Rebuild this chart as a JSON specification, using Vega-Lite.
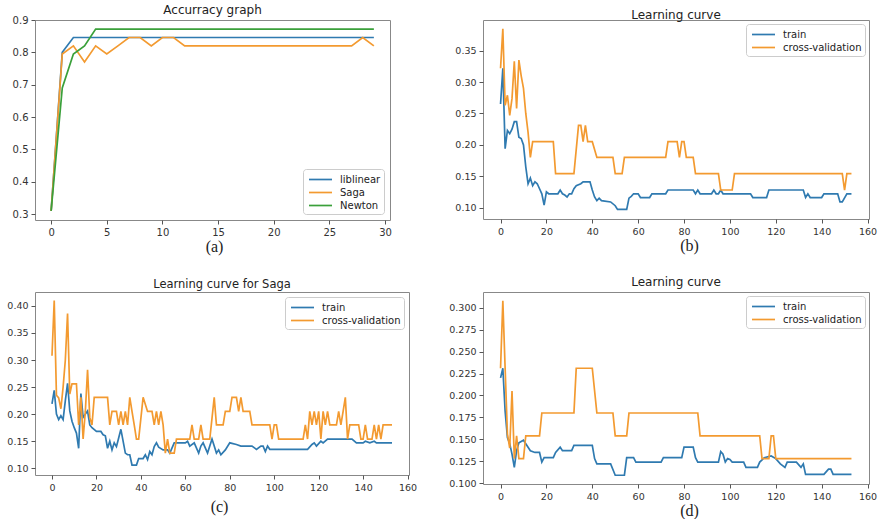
{
  "$schema": "https://vega.github.io/schema/vega-lite/v6.json",
  "background": "white",
  "padding": {"left": 0, "top": 3, "right": 0, "bottom": 0},
  "autosize": {"type": "pad"},
  "columns": 2,
  "bounds": "flush",
  "spacing": {"row": 72, "column": 74},
  "config": {
    "view": {"stroke": "#888", "strokeWidth": 1},
    "axis": {"domain": false, "grid": false, "tickColor": "#555", "tickSize": 4, "labelFont": "DejaVu Sans", "labelFontSize": 9.5, "labelColor": "#333", "labelPadding": 3, "labelFlush": false, "titleFont": "Liberation Serif", "titleFontSize": 16, "titleFontWeight": "normal", "titleColor": "#222", "titleBaseline": "top"},
    "title": {"font": "DejaVu Sans", "fontSize": 12, "fontWeight": "normal", "color": "#222", "anchor": "middle", "offset": -2},
    "legend": {"labelFont": "DejaVu Sans", "labelFontSize": 10, "labelColor": "#222", "symbolType": "M-0.69,0H2.85", "symbolStrokeWidth": 2, "symbolSize": 169, "padding": 3, "rowPadding": 0, "fillColor": "white", "strokeColor": "#ccc", "cornerRadius": 3, "labelOffset": 19, "offset": 5, "title": null},
    "line": {"strokeWidth": 1.7, "clip": true}
  },
  "datasets": {
    "a": [
      {"s":"liblinear","x":0,"y":0.31},{"s":"liblinear","x":1,"y":0.8},{"s":"liblinear","x":2,"y":0.846},{"s":"liblinear","x":29,"y":0.846},
      {"s":"Saga","x":0,"y":0.31},{"s":"Saga","x":1,"y":0.795},{"s":"Saga","x":2,"y":0.82},{"s":"Saga","x":3,"y":0.77},{"s":"Saga","x":4,"y":0.82},{"s":"Saga","x":5,"y":0.795},{"s":"Saga","x":6,"y":0.82},{"s":"Saga","x":7,"y":0.846},{"s":"Saga","x":8,"y":0.846},{"s":"Saga","x":9,"y":0.82},{"s":"Saga","x":10,"y":0.846},{"s":"Saga","x":11,"y":0.846},{"s":"Saga","x":12,"y":0.82},{"s":"Saga","x":27,"y":0.82},{"s":"Saga","x":28,"y":0.846},{"s":"Saga","x":29,"y":0.82},
      {"s":"Newton","x":0,"y":0.31},{"s":"Newton","x":1,"y":0.69},{"s":"Newton","x":2,"y":0.795},{"s":"Newton","x":3,"y":0.82},{"s":"Newton","x":4,"y":0.872},{"s":"Newton","x":29,"y":0.872}
    ],
    "b": [
      {"s":"train","x":0,"y":0.265},{"s":"train","x":1,"y":0.322},{"s":"train","x":2,"y":0.194},{"s":"train","x":3,"y":0.223},{"s":"train","x":4,"y":0.218},{"s":"train","x":5,"y":0.225},{"s":"train","x":6,"y":0.237},{"s":"train","x":7,"y":0.237},{"s":"train","x":8,"y":0.212},{"s":"train","x":9,"y":0.21},{"s":"train","x":10,"y":0.2},{"s":"train","x":11,"y":0.165},{"s":"train","x":12,"y":0.138},{"s":"train","x":13,"y":0.147},{"s":"train","x":14,"y":0.135},{"s":"train","x":15,"y":0.141},{"s":"train","x":16,"y":0.138},{"s":"train","x":17,"y":0.13},{"s":"train","x":18,"y":0.122},{"s":"train","x":19,"y":0.104},{"s":"train","x":20,"y":0.125},{"s":"train","x":21,"y":0.122},{"s":"train","x":25,"y":0.122},{"s":"train","x":26,"y":0.128},{"s":"train","x":27,"y":0.122},{"s":"train","x":28,"y":0.12},{"s":"train","x":29,"y":0.117},{"s":"train","x":30,"y":0.122},{"s":"train","x":31,"y":0.122},{"s":"train","x":32,"y":0.13},{"s":"train","x":33,"y":0.135},{"s":"train","x":35,"y":0.138},{"s":"train","x":36,"y":0.141},{"s":"train","x":39,"y":0.141},{"s":"train","x":40,"y":0.128},{"s":"train","x":41,"y":0.117},{"s":"train","x":42,"y":0.111},{"s":"train","x":43,"y":0.115},{"s":"train","x":44,"y":0.111},{"s":"train","x":48,"y":0.109},{"s":"train","x":50,"y":0.103},{"s":"train","x":51,"y":0.097},{"s":"train","x":55,"y":0.097},{"s":"train","x":56,"y":0.115},{"s":"train","x":57,"y":0.118},{"s":"train","x":58,"y":0.122},{"s":"train","x":60,"y":0.122},{"s":"train","x":61,"y":0.116},{"s":"train","x":65,"y":0.116},{"s":"train","x":66,"y":0.122},{"s":"train","x":72,"y":0.122},{"s":"train","x":73,"y":0.128},{"s":"train","x":84,"y":0.128},{"s":"train","x":85,"y":0.122},{"s":"train","x":86,"y":0.128},{"s":"train","x":87,"y":0.122},{"s":"train","x":92,"y":0.122},{"s":"train","x":93,"y":0.128},{"s":"train","x":94,"y":0.122},{"s":"train","x":95,"y":0.122},{"s":"train","x":96,"y":0.128},{"s":"train","x":97,"y":0.122},{"s":"train","x":109,"y":0.122},{"s":"train","x":110,"y":0.116},{"s":"train","x":116,"y":0.116},{"s":"train","x":117,"y":0.128},{"s":"train","x":132,"y":0.128},{"s":"train","x":133,"y":0.116},{"s":"train","x":134,"y":0.122},{"s":"train","x":135,"y":0.116},{"s":"train","x":140,"y":0.116},{"s":"train","x":141,"y":0.122},{"s":"train","x":147,"y":0.122},{"s":"train","x":148,"y":0.109},{"s":"train","x":149,"y":0.109},{"s":"train","x":151,"y":0.122},{"s":"train","x":153,"y":0.122},
      {"s":"cross-validation","x":0,"y":0.322},{"s":"cross-validation","x":1,"y":0.385},{"s":"cross-validation","x":2,"y":0.263},{"s":"cross-validation","x":3,"y":0.279},{"s":"cross-validation","x":4,"y":0.247},{"s":"cross-validation","x":5,"y":0.274},{"s":"cross-validation","x":6,"y":0.333},{"s":"cross-validation","x":7,"y":0.258},{"s":"cross-validation","x":8,"y":0.335},{"s":"cross-validation","x":9,"y":0.31},{"s":"cross-validation","x":10,"y":0.29},{"s":"cross-validation","x":11,"y":0.25},{"s":"cross-validation","x":12,"y":0.22},{"s":"cross-validation","x":13,"y":0.18},{"s":"cross-validation","x":14,"y":0.205},{"s":"cross-validation","x":23,"y":0.205},{"s":"cross-validation","x":24,"y":0.154},{"s":"cross-validation","x":32,"y":0.154},{"s":"cross-validation","x":34,"y":0.231},{"s":"cross-validation","x":35,"y":0.231},{"s":"cross-validation","x":36,"y":0.205},{"s":"cross-validation","x":37,"y":0.231},{"s":"cross-validation","x":38,"y":0.205},{"s":"cross-validation","x":40,"y":0.205},{"s":"cross-validation","x":42,"y":0.18},{"s":"cross-validation","x":49,"y":0.18},{"s":"cross-validation","x":50,"y":0.154},{"s":"cross-validation","x":53,"y":0.154},{"s":"cross-validation","x":54,"y":0.18},{"s":"cross-validation","x":72,"y":0.18},{"s":"cross-validation","x":73,"y":0.205},{"s":"cross-validation","x":77,"y":0.205},{"s":"cross-validation","x":78,"y":0.18},{"s":"cross-validation","x":79,"y":0.205},{"s":"cross-validation","x":80,"y":0.205},{"s":"cross-validation","x":81,"y":0.18},{"s":"cross-validation","x":84,"y":0.18},{"s":"cross-validation","x":85,"y":0.154},{"s":"cross-validation","x":95,"y":0.154},{"s":"cross-validation","x":96,"y":0.128},{"s":"cross-validation","x":101,"y":0.128},{"s":"cross-validation","x":102,"y":0.154},{"s":"cross-validation","x":149,"y":0.154},{"s":"cross-validation","x":150,"y":0.128},{"s":"cross-validation","x":151,"y":0.154},{"s":"cross-validation","x":153,"y":0.154}
    ],
    "c": [
      {"s":"train","x":0,"y":0.219},{"s":"train","x":1,"y":0.244},{"s":"train","x":2,"y":0.2},{"s":"train","x":3,"y":0.19},{"s":"train","x":4,"y":0.197},{"s":"train","x":5,"y":0.19},{"s":"train","x":6,"y":0.225},{"s":"train","x":7,"y":0.257},{"s":"train","x":8,"y":0.206},{"s":"train","x":9,"y":0.187},{"s":"train","x":10,"y":0.175},{"s":"train","x":11,"y":0.165},{"s":"train","x":12,"y":0.137},{"s":"train","x":13,"y":0.238},{"s":"train","x":14,"y":0.194},{"s":"train","x":15,"y":0.2},{"s":"train","x":16,"y":0.206},{"s":"train","x":17,"y":0.18},{"s":"train","x":18,"y":0.175},{"s":"train","x":20,"y":0.168},{"s":"train","x":22,"y":0.168},{"s":"train","x":23,"y":0.162},{"s":"train","x":24,"y":0.16},{"s":"train","x":25,"y":0.137},{"s":"train","x":26,"y":0.15},{"s":"train","x":27,"y":0.134},{"s":"train","x":28,"y":0.147},{"s":"train","x":29,"y":0.14},{"s":"train","x":30,"y":0.156},{"s":"train","x":31,"y":0.172},{"s":"train","x":32,"y":0.15},{"s":"train","x":33,"y":0.128},{"s":"train","x":34,"y":0.125},{"s":"train","x":35,"y":0.125},{"s":"train","x":36,"y":0.106},{"s":"train","x":38,"y":0.106},{"s":"train","x":39,"y":0.118},{"s":"train","x":41,"y":0.118},{"s":"train","x":42,"y":0.125},{"s":"train","x":43,"y":0.116},{"s":"train","x":44,"y":0.131},{"s":"train","x":45,"y":0.125},{"s":"train","x":46,"y":0.14},{"s":"train","x":47,"y":0.147},{"s":"train","x":48,"y":0.139},{"s":"train","x":50,"y":0.134},{"s":"train","x":52,"y":0.134},{"s":"train","x":53,"y":0.128},{"s":"train","x":55,"y":0.147},{"s":"train","x":60,"y":0.147},{"s":"train","x":61,"y":0.15},{"s":"train","x":62,"y":0.141},{"s":"train","x":64,"y":0.147},{"s":"train","x":66,"y":0.128},{"s":"train","x":67,"y":0.141},{"s":"train","x":68,"y":0.147},{"s":"train","x":70,"y":0.128},{"s":"train","x":72,"y":0.154},{"s":"train","x":73,"y":0.141},{"s":"train","x":74,"y":0.128},{"s":"train","x":75,"y":0.134},{"s":"train","x":76,"y":0.125},{"s":"train","x":78,"y":0.134},{"s":"train","x":80,"y":0.147},{"s":"train","x":83,"y":0.144},{"s":"train","x":85,"y":0.141},{"s":"train","x":90,"y":0.141},{"s":"train","x":92,"y":0.135},{"s":"train","x":94,"y":0.141},{"s":"train","x":95,"y":0.141},{"s":"train","x":96,"y":0.131},{"s":"train","x":97,"y":0.141},{"s":"train","x":98,"y":0.135},{"s":"train","x":115,"y":0.135},{"s":"train","x":117,"y":0.144},{"s":"train","x":118,"y":0.147},{"s":"train","x":119,"y":0.141},{"s":"train","x":121,"y":0.15},{"s":"train","x":122,"y":0.147},{"s":"train","x":124,"y":0.154},{"s":"train","x":135,"y":0.154},{"s":"train","x":137,"y":0.147},{"s":"train","x":140,"y":0.147},{"s":"train","x":141,"y":0.15},{"s":"train","x":143,"y":0.147},{"s":"train","x":145,"y":0.15},{"s":"train","x":146,"y":0.147},{"s":"train","x":153,"y":0.147},
      {"s":"cross-validation","x":0,"y":0.308},{"s":"cross-validation","x":1,"y":0.41},{"s":"cross-validation","x":2,"y":0.235},{"s":"cross-validation","x":3,"y":0.23},{"s":"cross-validation","x":4,"y":0.21},{"s":"cross-validation","x":5,"y":0.25},{"s":"cross-validation","x":6,"y":0.3},{"s":"cross-validation","x":7,"y":0.386},{"s":"cross-validation","x":8,"y":0.237},{"s":"cross-validation","x":9,"y":0.256},{"s":"cross-validation","x":11,"y":0.256},{"s":"cross-validation","x":12,"y":0.18},{"s":"cross-validation","x":13,"y":0.231},{"s":"cross-validation","x":14,"y":0.154},{"s":"cross-validation","x":15,"y":0.205},{"s":"cross-validation","x":16,"y":0.282},{"s":"cross-validation","x":17,"y":0.194},{"s":"cross-validation","x":18,"y":0.18},{"s":"cross-validation","x":19,"y":0.231},{"s":"cross-validation","x":25,"y":0.231},{"s":"cross-validation","x":26,"y":0.18},{"s":"cross-validation","x":27,"y":0.205},{"s":"cross-validation","x":29,"y":0.205},{"s":"cross-validation","x":30,"y":0.18},{"s":"cross-validation","x":31,"y":0.205},{"s":"cross-validation","x":32,"y":0.18},{"s":"cross-validation","x":33,"y":0.205},{"s":"cross-validation","x":34,"y":0.18},{"s":"cross-validation","x":35,"y":0.231},{"s":"cross-validation","x":36,"y":0.205},{"s":"cross-validation","x":37,"y":0.18},{"s":"cross-validation","x":38,"y":0.154},{"s":"cross-validation","x":39,"y":0.154},{"s":"cross-validation","x":41,"y":0.231},{"s":"cross-validation","x":43,"y":0.205},{"s":"cross-validation","x":45,"y":0.205},{"s":"cross-validation","x":46,"y":0.18},{"s":"cross-validation","x":47,"y":0.205},{"s":"cross-validation","x":48,"y":0.18},{"s":"cross-validation","x":49,"y":0.205},{"s":"cross-validation","x":50,"y":0.18},{"s":"cross-validation","x":51,"y":0.128},{"s":"cross-validation","x":52,"y":0.154},{"s":"cross-validation","x":53,"y":0.128},{"s":"cross-validation","x":55,"y":0.128},{"s":"cross-validation","x":56,"y":0.154},{"s":"cross-validation","x":62,"y":0.154},{"s":"cross-validation","x":63,"y":0.18},{"s":"cross-validation","x":64,"y":0.154},{"s":"cross-validation","x":66,"y":0.154},{"s":"cross-validation","x":67,"y":0.18},{"s":"cross-validation","x":68,"y":0.154},{"s":"cross-validation","x":71,"y":0.154},{"s":"cross-validation","x":73,"y":0.231},{"s":"cross-validation","x":74,"y":0.18},{"s":"cross-validation","x":77,"y":0.18},{"s":"cross-validation","x":78,"y":0.205},{"s":"cross-validation","x":80,"y":0.205},{"s":"cross-validation","x":81,"y":0.231},{"s":"cross-validation","x":83,"y":0.231},{"s":"cross-validation","x":84,"y":0.205},{"s":"cross-validation","x":85,"y":0.231},{"s":"cross-validation","x":86,"y":0.205},{"s":"cross-validation","x":89,"y":0.205},{"s":"cross-validation","x":90,"y":0.18},{"s":"cross-validation","x":98,"y":0.18},{"s":"cross-validation","x":99,"y":0.154},{"s":"cross-validation","x":100,"y":0.18},{"s":"cross-validation","x":101,"y":0.18},{"s":"cross-validation","x":102,"y":0.154},{"s":"cross-validation","x":113,"y":0.154},{"s":"cross-validation","x":114,"y":0.18},{"s":"cross-validation","x":115,"y":0.154},{"s":"cross-validation","x":116,"y":0.205},{"s":"cross-validation","x":117,"y":0.18},{"s":"cross-validation","x":118,"y":0.205},{"s":"cross-validation","x":119,"y":0.18},{"s":"cross-validation","x":120,"y":0.205},{"s":"cross-validation","x":121,"y":0.154},{"s":"cross-validation","x":122,"y":0.205},{"s":"cross-validation","x":123,"y":0.18},{"s":"cross-validation","x":124,"y":0.205},{"s":"cross-validation","x":125,"y":0.18},{"s":"cross-validation","x":128,"y":0.18},{"s":"cross-validation","x":129,"y":0.205},{"s":"cross-validation","x":130,"y":0.18},{"s":"cross-validation","x":131,"y":0.205},{"s":"cross-validation","x":132,"y":0.231},{"s":"cross-validation","x":133,"y":0.154},{"s":"cross-validation","x":134,"y":0.18},{"s":"cross-validation","x":138,"y":0.18},{"s":"cross-validation","x":139,"y":0.154},{"s":"cross-validation","x":140,"y":0.154},{"s":"cross-validation","x":141,"y":0.18},{"s":"cross-validation","x":142,"y":0.154},{"s":"cross-validation","x":144,"y":0.154},{"s":"cross-validation","x":145,"y":0.18},{"s":"cross-validation","x":146,"y":0.154},{"s":"cross-validation","x":147,"y":0.18},{"s":"cross-validation","x":148,"y":0.154},{"s":"cross-validation","x":149,"y":0.18},{"s":"cross-validation","x":153,"y":0.18}
    ],
    "d": [
      {"s":"train","x":0,"y":0.22},{"s":"train","x":1,"y":0.231},{"s":"train","x":2,"y":0.182},{"s":"train","x":3,"y":0.152},{"s":"train","x":4,"y":0.145},{"s":"train","x":5,"y":0.133},{"s":"train","x":6,"y":0.118},{"s":"train","x":7,"y":0.137},{"s":"train","x":8,"y":0.146},{"s":"train","x":10,"y":0.149},{"s":"train","x":11,"y":0.145},{"s":"train","x":13,"y":0.137},{"s":"train","x":15,"y":0.135},{"s":"train","x":17,"y":0.135},{"s":"train","x":18,"y":0.124},{"s":"train","x":19,"y":0.129},{"s":"train","x":23,"y":0.129},{"s":"train","x":24,"y":0.135},{"s":"train","x":26,"y":0.141},{"s":"train","x":27,"y":0.137},{"s":"train","x":31,"y":0.137},{"s":"train","x":32,"y":0.143},{"s":"train","x":40,"y":0.143},{"s":"train","x":41,"y":0.128},{"s":"train","x":42,"y":0.122},{"s":"train","x":48,"y":0.122},{"s":"train","x":50,"y":0.109},{"s":"train","x":54,"y":0.109},{"s":"train","x":55,"y":0.129},{"s":"train","x":58,"y":0.129},{"s":"train","x":59,"y":0.124},{"s":"train","x":70,"y":0.124},{"s":"train","x":71,"y":0.129},{"s":"train","x":79,"y":0.129},{"s":"train","x":80,"y":0.141},{"s":"train","x":84,"y":0.141},{"s":"train","x":85,"y":0.129},{"s":"train","x":86,"y":0.124},{"s":"train","x":95,"y":0.124},{"s":"train","x":96,"y":0.136},{"s":"train","x":97,"y":0.133},{"s":"train","x":98,"y":0.124},{"s":"train","x":99,"y":0.128},{"s":"train","x":100,"y":0.127},{"s":"train","x":101,"y":0.124},{"s":"train","x":106,"y":0.124},{"s":"train","x":107,"y":0.118},{"s":"train","x":112,"y":0.118},{"s":"train","x":113,"y":0.124},{"s":"train","x":115,"y":0.129},{"s":"train","x":118,"y":0.131},{"s":"train","x":120,"y":0.128},{"s":"train","x":122,"y":0.122},{"s":"train","x":124,"y":0.118},{"s":"train","x":125,"y":0.124},{"s":"train","x":129,"y":0.124},{"s":"train","x":131,"y":0.118},{"s":"train","x":132,"y":0.122},{"s":"train","x":133,"y":0.11},{"s":"train","x":141,"y":0.11},{"s":"train","x":143,"y":0.116},{"s":"train","x":144,"y":0.116},{"s":"train","x":145,"y":0.11},{"s":"train","x":153,"y":0.11},
      {"s":"cross-validation","x":0,"y":0.231},{"s":"cross-validation","x":1,"y":0.308},{"s":"cross-validation","x":2,"y":0.231},{"s":"cross-validation","x":3,"y":0.156},{"s":"cross-validation","x":4,"y":0.14},{"s":"cross-validation","x":5,"y":0.205},{"s":"cross-validation","x":6,"y":0.128},{"s":"cross-validation","x":7,"y":0.154},{"s":"cross-validation","x":8,"y":0.128},{"s":"cross-validation","x":10,"y":0.128},{"s":"cross-validation","x":11,"y":0.154},{"s":"cross-validation","x":17,"y":0.154},{"s":"cross-validation","x":18,"y":0.18},{"s":"cross-validation","x":32,"y":0.18},{"s":"cross-validation","x":33,"y":0.231},{"s":"cross-validation","x":40,"y":0.231},{"s":"cross-validation","x":42,"y":0.18},{"s":"cross-validation","x":49,"y":0.18},{"s":"cross-validation","x":50,"y":0.154},{"s":"cross-validation","x":55,"y":0.154},{"s":"cross-validation","x":56,"y":0.18},{"s":"cross-validation","x":86,"y":0.18},{"s":"cross-validation","x":87,"y":0.154},{"s":"cross-validation","x":113,"y":0.154},{"s":"cross-validation","x":114,"y":0.128},{"s":"cross-validation","x":117,"y":0.128},{"s":"cross-validation","x":118,"y":0.154},{"s":"cross-validation","x":119,"y":0.154},{"s":"cross-validation","x":120,"y":0.128},{"s":"cross-validation","x":153,"y":0.128}
    ]
  },
  "concat": [
    {
      "width": 355, "height": 200,
      "title": "Accurracy graph",
      "data": {"name": "a"},
      "mark": "line",
      "encoding": {
        "x": {"field": "x", "type": "quantitative", "scale": {"domain": [-1.45, 30.45], "nice": false, "zero": false}, "axis": {"values": [0, 5, 10, 15, 20, 25, 30], "labelFontSize": 10, "title": "(a)", "titleX": 179, "titleY": 18, "titleBaseline": "top"}},
        "y": {"field": "y", "type": "quantitative", "scale": {"domain": [0.282, 0.9], "nice": false, "zero": false}, "axis": {"values": [0.3, 0.4, 0.5, 0.6, 0.7, 0.8, 0.9], "format": ".1f", "labelFontSize": 10, "title": null, "minExtent": 34, "maxExtent": 34}},
        "color": {"field": "s", "type": "nominal", "scale": {"domain": ["liblinear", "Saga", "Newton"], "range": ["#2f7ab0", "#f39a30", "#3aa03a"]}, "legend": {"orient": "bottom-right", "offset": 6}}
      }
    },
    {
      "width": 386, "height": 199,
      "title": "Learning curve",
      "data": {"name": "b"},
      "mark": "line",
      "encoding": {
        "x": {"field": "x", "type": "quantitative", "scale": {"domain": [-7.65, 160.65], "nice": false, "zero": false}, "axis": {"values": [0, 20, 40, 60, 80, 100, 120, 140, 160], "title": "(b)", "titleX": 206, "titleY": 18, "titleBaseline": "top"}},
        "y": {"field": "y", "type": "quantitative", "scale": {"domain": [0.0818, 0.399], "nice": false, "zero": false}, "axis": {"values": [0.1, 0.15, 0.2, 0.25, 0.3, 0.35], "format": ".2f", "title": null, "minExtent": 40, "maxExtent": 40}},
        "color": {"field": "s", "type": "nominal", "scale": {"domain": ["train", "cross-validation"], "range": ["#2f7ab0", "#f39a30"]}, "legend": {"orient": "top-right", "offset": 4}}
      }
    },
    {
      "width": 374, "height": 183,
      "title": {"text": "Learning curve for Saga", "fontSize": 11.5, "offset": 2},
      "data": {"name": "c"},
      "mark": "line",
      "encoding": {
        "x": {"field": "x", "type": "quantitative", "scale": {"domain": [-7.65, 160.65], "nice": false, "zero": false}, "axis": {"values": [0, 20, 40, 60, 80, 100, 120, 140, 160], "title": "(c)", "titleX": 184, "titleY": 23, "titleBaseline": "top"}},
        "y": {"field": "y", "type": "quantitative", "scale": {"domain": [0.0876, 0.4256], "nice": false, "zero": false}, "axis": {"values": [0.1, 0.15, 0.2, 0.25, 0.3, 0.35, 0.4], "format": ".2f", "title": null, "minExtent": 34, "maxExtent": 34}},
        "color": {"field": "s", "type": "nominal", "scale": {"domain": ["train", "cross-validation"], "range": ["#2f7ab0", "#f39a30"]}, "legend": {"orient": "top-right", "offset": 5}}
      }
    },
    {
      "width": 386, "height": 192,
      "title": {"text": "Learning curve", "offset": 3},
      "data": {"name": "d"},
      "mark": "line",
      "encoding": {
        "x": {"field": "x", "type": "quantitative", "scale": {"domain": [-7.65, 160.65], "nice": false, "zero": false}, "axis": {"values": [0, 20, 40, 60, 80, 100, 120, 140, 160], "title": "(d)", "titleX": 206, "titleY": 18, "titleBaseline": "top"}},
        "y": {"field": "y", "type": "quantitative", "scale": {"domain": [0.099, 0.318], "nice": false, "zero": false}, "axis": {"values": [0.1, 0.125, 0.15, 0.175, 0.2, 0.225, 0.25, 0.275, 0.3], "format": ".3f", "title": null, "minExtent": 40, "maxExtent": 40}},
        "color": {"field": "s", "type": "nominal", "scale": {"domain": ["train", "cross-validation"], "range": ["#2f7ab0", "#f39a30"]}, "legend": {"orient": "top-right", "offset": 4}}
      }
    }
  ],
  "resolve": {"scale": {"color": "independent"}, "legend": {"color": "independent"}}
}
